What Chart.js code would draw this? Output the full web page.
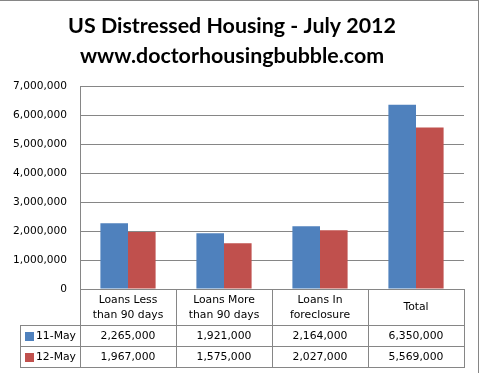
<!DOCTYPE html>
<html>
<head>
<meta charset="utf-8">
<script src="https://cdn.jsdelivr.net/npm/chart.js@4"></script>
<style>
html,body{margin:0;padding:0;background:#fff;}
#wrap{width:479px;height:373px;position:relative;}
</style>
</head>
<body>
<div id="wrap"><canvas id="c" width="479" height="373"></canvas></div>
<script>
const titleLines = ["US Distressed Housing - July 2012", "www.doctorhousingbubble.com"];
const categories = [["Loans Less", "than 90 days"], ["Loans More", "than 90 days"], ["Loans In", "foreclosure"], ["Total"]];
const seriesNames = ["11-May", "12-May"];
const may11 = [2265000, 1921000, 2164000, 6350000];
const may12 = [1967000, 1575000, 2027000, 5569000];
const yMax = 7000000;
const yStep = 1000000;

const BLUE = "#4F81BD", RED = "#C0504D", GRID = "#868686";
const TXT_FONT = "10.8px 'DejaVu Sans'";

const fmt = v => v.toLocaleString("en-US");

const tablePlugin = {
  id: "dataTable",
  afterDraw(chart) {
    const ctx = chart.ctx;
    const ca = chart.chartArea;
    const n = categories.length;
    const colW = (ca.right - ca.left) / n;
    const top = ca.bottom;
    const headH = 36, rowH = 21;
    const legendLeft = 20;
    const bottom = top + headH + 2 * rowH;
    ctx.save();
    ctx.strokeStyle = GRID;
    ctx.lineWidth = 1;
    const hl = (x1, x2, y) => { ctx.beginPath(); ctx.moveTo(x1, Math.round(y) + 0.5); ctx.lineTo(x2, Math.round(y) + 0.5); ctx.stroke(); };
    const vl = (x, y1, y2) => { ctx.beginPath(); ctx.moveTo(Math.round(x) + 0.5, y1); ctx.lineTo(Math.round(x) + 0.5, y2); ctx.stroke(); };
    hl(ca.left, ca.right + 1, top);
    hl(legendLeft, ca.right + 1, top + headH);
    hl(legendLeft, ca.right + 1, top + headH + rowH);
    hl(legendLeft, ca.right + 1, bottom);
    for (let i = 0; i <= n; i++) vl(ca.left + i * colW, top, bottom);
    vl(legendLeft, top + headH, bottom);
    hl(0, chart.width, 0);
    vl(chart.width - 1, 0, chart.height);

    ctx.fillStyle = "#000";
    ctx.font = TXT_FONT;
    ctx.textAlign = "center";
    ctx.textBaseline = "middle";
    categories.forEach((lab, i) => {
      const cx = ca.left + (i + 0.5) * colW;
      const lines = Array.isArray(lab) ? lab : [lab];
      const lh = 15;
      const cy = top + headH / 2 + 0.5;
      lines.forEach((l, j) => {
        ctx.fillText(l, cx, cy + (j - (lines.length - 1) / 2) * lh);
      });
    });
    const rows = [may11, may12];
    const colors = [BLUE, RED];
    rows.forEach((vals, r) => {
      const cy = top + headH + r * rowH + rowH / 2 + 0.5;
      vals.forEach((v, i) => {
        ctx.textAlign = "center";
        ctx.fillStyle = "#000";
        ctx.fillText(fmt(v), ca.left + (i + 0.5) * colW, cy);
      });
      ctx.fillStyle = colors[r];
      ctx.fillRect(legendLeft + 5, Math.round(cy) - 4, 9, 9);
      ctx.fillStyle = "#000";
      ctx.textAlign = "left";
      ctx.fillText(seriesNames[r], legendLeft + 16, cy);
    });
    ctx.restore();
  }
};

new Chart(document.getElementById("c"), {
  type: "bar",
  data: {
    labels: categories,
    datasets: [
      { label: seriesNames[0], data: may11, backgroundColor: BLUE, borderWidth: 0 },
      { label: seriesNames[1], data: may12, backgroundColor: RED, borderWidth: 0 }
    ]
  },
  options: {
    responsive: false,
    animation: false,
    devicePixelRatio: 1,
    layout: { padding: { left: 0, right: 15, top: 0, bottom: 84 } },
    datasets: { bar: { categoryPercentage: 0.575, barPercentage: 1.0 } },
    plugins: {
      legend: { display: false },
      tooltip: { enabled: false },
      title: {
        display: true,
        text: titleLines,
        color: "#000",
        font: { family: "Lato", size: 21.4, weight: "bold", lineHeight: 30 / 21.4 },
        padding: { top: 11, bottom: 15 }
      }
    },
    scales: {
      x: { display: false },
      y: {
        min: 0, max: yMax,
        afterFit(scale) { scale.width = 80; },
        border: { display: true, color: GRID, width: 1 },
        grid: { color: GRID, lineWidth: 1, drawTicks: false },
        ticks: {
          stepSize: yStep,
          padding: 13,
          color: "#000",
          font: { family: "DejaVu Sans", size: 10.6 },
          callback: v => fmt(v)
        }
      }
    }
  },
  plugins: [tablePlugin]
});
</script>
</body>
</html>
